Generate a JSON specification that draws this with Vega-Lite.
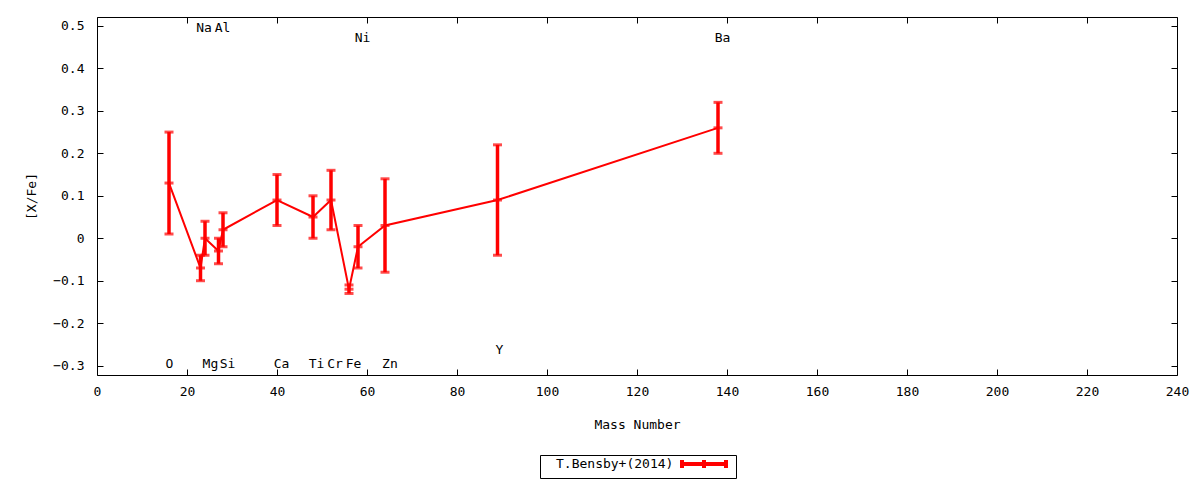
{
  "$schema": "https://vega.github.io/schema/vega-lite/v6.json",
  "autosize": "none",
  "width": 1080,
  "height": 358,
  "padding": {"left": 97, "top": 17, "right": 23, "bottom": 105},
  "background": "white",
  "config": {
    "font": "DejaVu Sans Mono",
    "view": {"stroke": "black", "strokeWidth": 1},
    "axis": {
      "grid": false,
      "domain": false,
      "tickColor": "black",
      "tickSize": -6,
      "tickWidth": 1,
      "labelFlush": false,
      "labelOverlap": false,
      "labelFont": "DejaVu Sans Mono",
      "labelFontSize": 13,
      "labelColor": "black",
      "titleFont": "DejaVu Sans Mono",
      "titleFontSize": 13,
      "titleFontWeight": "normal",
      "titleColor": "black"
    },
    "text": {"font": "DejaVu Sans Mono", "fontSize": 13}
  },
  "datasets": {
    "pts": [
      {"el": "O", "mass": 16, "val": 0.13, "lo": 0.01, "hi": 0.25},
      {"el": "Na", "mass": 23, "val": -0.07, "lo": -0.10, "hi": -0.04},
      {"el": "Mg", "mass": 24, "val": 0.00, "lo": -0.04, "hi": 0.04},
      {"el": "Al", "mass": 27, "val": -0.03, "lo": -0.06, "hi": 0.00},
      {"el": "Si", "mass": 28, "val": 0.02, "lo": -0.02, "hi": 0.06},
      {"el": "Ca", "mass": 40, "val": 0.09, "lo": 0.03, "hi": 0.15},
      {"el": "Ti", "mass": 48, "val": 0.05, "lo": 0.00, "hi": 0.10},
      {"el": "Cr", "mass": 52, "val": 0.09, "lo": 0.02, "hi": 0.16},
      {"el": "Fe", "mass": 56, "val": -0.12, "lo": -0.13, "hi": -0.11},
      {"el": "Ni", "mass": 58, "val": -0.02, "lo": -0.07, "hi": 0.03},
      {"el": "Zn", "mass": 64, "val": 0.03, "lo": -0.08, "hi": 0.14},
      {"el": "Y", "mass": 89, "val": 0.09, "lo": -0.04, "hi": 0.22},
      {"el": "Ba", "mass": 138, "val": 0.26, "lo": 0.20, "hi": 0.32}
    ],
    "labels": [
      {"el": "O", "lx": 16.1, "ly": -0.295},
      {"el": "Na", "lx": 23.8, "ly": 0.495},
      {"el": "Mg", "lx": 25.2, "ly": -0.295},
      {"el": "Al", "lx": 27.9, "ly": 0.495},
      {"el": "Si", "lx": 29.0, "ly": -0.295},
      {"el": "Ca", "lx": 41.0, "ly": -0.295},
      {"el": "Ti", "lx": 48.8, "ly": -0.295},
      {"el": "Cr", "lx": 52.9, "ly": -0.295},
      {"el": "Fe", "lx": 57.0, "ly": -0.295},
      {"el": "Ni", "lx": 59.0, "ly": 0.472},
      {"el": "Zn", "lx": 65.1, "ly": -0.295},
      {"el": "Y", "lx": 89.4, "ly": -0.262},
      {"el": "Ba", "lx": 139.0, "ly": 0.472}
    ]
  },
  "resolve": {"axis": {"x": "independent", "y": "independent"}},
  "layer": [
    {
      "data": {"name": "pts"},
      "mark": {"type": "line", "strokeWidth": 2},
      "encoding": {
        "x": {"field": "mass", "type": "quantitative",
              "scale": {"domain": [0, 240], "nice": false, "zero": false},
              "axis": {"orient": "bottom", "values": [0,20,40,60,80,100,120,140,160,180,200,220,240], "title": "Mass Number", "labelPadding": 16, "titlePadding": 20}},
        "y": {"field": "val", "type": "quantitative",
              "scale": {"domain": [-0.322, 0.521], "nice": false, "zero": false},
              "axis": {"orient": "left", "values": [-0.3,-0.2,-0.1,0,0.1,0.2,0.3,0.4,0.5], "title": "[X/Fe]", "labelPadding": 19, "titlePadding": 14, "labelExpr": "datum.value == 0 ? '0' : format(datum.value, '.1f')"}},
        "color": {"datum": "T.Bensby+(2014)", "type": "nominal",
                  "scale": {"range": ["#ff0000"]},
                  "legend": {
                    "orient": "none", "legendX": 443, "legendY": 438,
                    "title": null, "direction": "vertical",
                    "symbolType": "M-4.4,0H4.4M-4.4,-0.8V0.8M4.4,-0.8V0.8M0,-0.8V0.8",
                    "symbolSize": 100, "symbolStrokeWidth": 4,
                    "strokeColor": "black", "padding": 2,
                    "labelFont": "DejaVu Sans Mono", "labelFontSize": 13, "labelColor": "black",
                    "symbolOffset": 155, "labelOffset": -155
                  }}
      }
    },
    {
      "data": {"name": "pts"},
      "mark": {"type": "rule", "color": "#ff0000", "strokeWidth": 3.5},
      "encoding": {
        "x": {"field": "mass", "type": "quantitative",
              "axis": {"orient": "top", "values": [0,20,40,60,80,100,120,140,160,180,200,220,240], "labels": false, "title": null}},
        "y": {"field": "lo", "type": "quantitative",
              "axis": {"orient": "right", "values": [-0.3,-0.2,-0.1,0,0.1,0.2,0.3,0.4,0.5], "labels": false, "title": null}},
        "y2": {"field": "hi"}
      }
    },
    {
      "data": {"name": "pts"},
      "mark": {"type": "tick", "orient": "horizontal", "color": "#ff0000", "size": 9, "thickness": 3},
      "encoding": {
        "x": {"field": "mass", "type": "quantitative", "axis": null},
        "y": {"field": "lo", "type": "quantitative", "axis": null}
      }
    },
    {
      "data": {"name": "pts"},
      "mark": {"type": "tick", "orient": "horizontal", "color": "#ff0000", "size": 9, "thickness": 3},
      "encoding": {
        "x": {"field": "mass", "type": "quantitative", "axis": null},
        "y": {"field": "hi", "type": "quantitative", "axis": null}
      }
    },
    {
      "data": {"name": "pts"},
      "mark": {"type": "tick", "orient": "horizontal", "color": "#ff0000", "size": 9, "thickness": 3},
      "encoding": {
        "x": {"field": "mass", "type": "quantitative", "axis": null},
        "y": {"field": "val", "type": "quantitative", "axis": null}
      }
    },
    {
      "data": {"name": "labels"},
      "mark": {"type": "text", "align": "center", "baseline": "middle", "color": "black"},
      "encoding": {
        "x": {"field": "lx", "type": "quantitative", "axis": null},
        "y": {"field": "ly", "type": "quantitative", "axis": null},
        "text": {"field": "el"}
      }
    }
  ]
}
